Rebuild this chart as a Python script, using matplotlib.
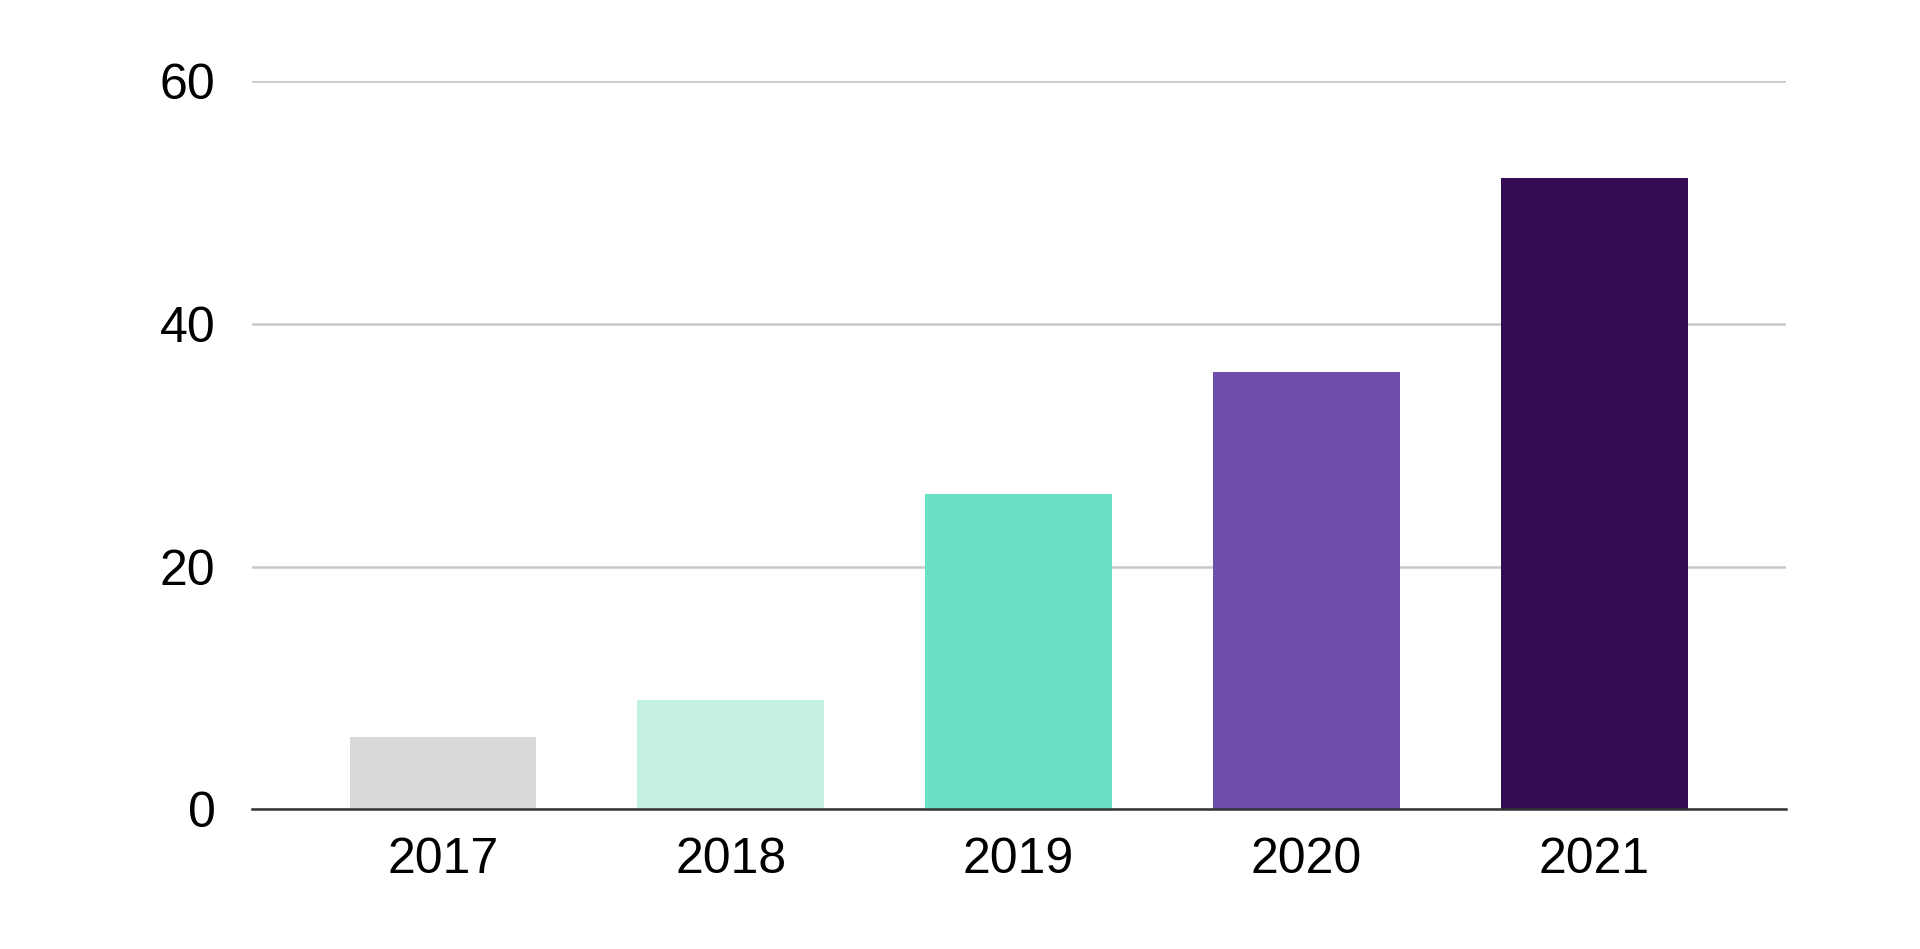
import matplotlib
matplotlib.use("Agg")
import matplotlib.pyplot as plt

years = ["2017", "2018", "2019", "2020", "2021"]
values = [6, 9, 26, 36, 52]
colors = ["#d9d9d9", "#c4f0e4", "#6ae0c5", "#6d4eaa", "#330c55"]
yticks = [0, 20, 40, 60]

plt.rcParams['font.family'] = ['Liberation Sans', 'DejaVu Sans']
fig = plt.figure(figsize=(19.2, 9.49), dpi=100)
ax = fig.add_axes([0.131, 0.147, 0.799, 0.768])
ax.bar(range(len(years)), values, width=0.647, color=colors, zorder=3)
ax.set_xlim(-0.664, len(years) - 1 + 0.664)
ax.set_ylim(0, 60)
ax.set_yticks(yticks)
ax.set_xticks(range(len(years)))
ax.set_xticklabels(years)
ax.yaxis.grid(True, color="#c8c8c8", linewidth=1.8, zorder=0)
for s in ["top", "right", "left"]:
    ax.spines[s].set_visible(False)
ax.spines["bottom"].set_color("#333333")
ax.spines["bottom"].set_linewidth(1.8)
ax.spines["bottom"].set_zorder(4)
ax.tick_params(axis="both", length=0, labelsize=36, colors="#000000")
ax.tick_params(axis="y", pad=26)
ax.tick_params(axis="x", pad=20)
fig.savefig("out.png")
